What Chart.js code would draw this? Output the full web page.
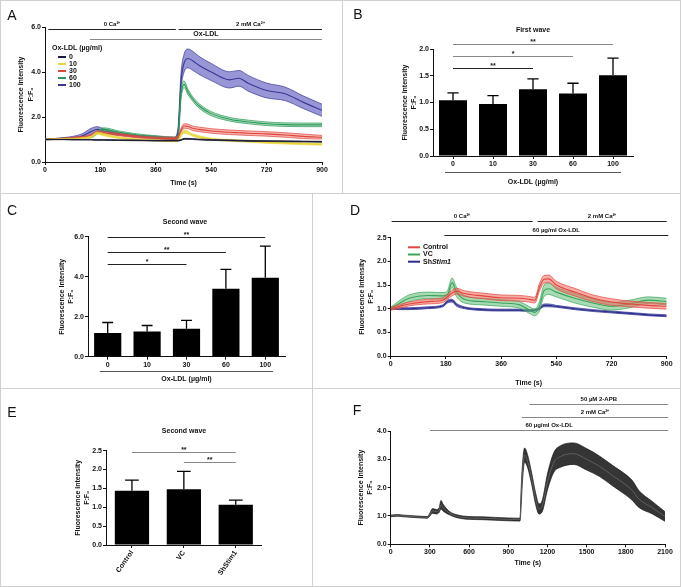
<!DOCTYPE html>
<html>
<head>
<meta charset="utf-8">
<script src="https://cdn.jsdelivr.net/npm/chart.js@4.4.1/dist/chart.umd.min.js"></script>
<style>
  body { margin: 0; background: #fff; }
  #fig { position: relative; width: 681px; height: 587px; overflow: hidden; font-family: 'Liberation Sans', Arial, sans-serif; color: #111; }
  #fig canvas { position: absolute; }
  .rule { position: absolute; background: #d0d0d0; }
  .letter { position: absolute; font-size: 14px; transform: translate(-50%, -50%); }
  .ptitle { position: absolute; font-size: 7px; font-weight: bold; transform: translate(-50%, -50%); white-space: nowrap; }
</style>
</head>
<body>
<div id="fig">
  <div class="rule" style="left:0;top:0;width:681px;height:1px"></div>
  <div class="rule" style="left:0;top:586px;width:681px;height:1px"></div>
  <div class="rule" style="left:0;top:0;width:1px;height:587px"></div>
  <div class="rule" style="left:680px;top:0;width:1px;height:587px"></div>
  <div class="rule" style="left:0;top:193px;width:681px;height:1px"></div>
  <div class="rule" style="left:0;top:388px;width:681px;height:1px"></div>
  <div class="rule" style="left:342px;top:0;width:1px;height:193px"></div>
  <div class="rule" style="left:312px;top:193px;width:1px;height:394px"></div>

  <canvas id="chartA" width="342" height="193" style="left:0;top:0"></canvas>
  <canvas id="chartB" width="339" height="193" style="left:342px;top:0"></canvas>
  <canvas id="chartC" width="312" height="195" style="left:0;top:193px"></canvas>
  <canvas id="chartD" width="369" height="195" style="left:312px;top:193px"></canvas>
  <canvas id="chartE" width="312" height="199" style="left:0;top:388px"></canvas>
  <canvas id="chartF" width="369" height="199" style="left:312px;top:388px"></canvas>

  <div class="letter" style="left:12px;top:15px">A</div>
  <div class="letter" style="left:358px;top:14px">B</div>
  <div class="letter" style="left:12px;top:210px">C</div>
  <div class="letter" style="left:355px;top:210px">D</div>
  <div class="letter" style="left:12px;top:412px">E</div>
  <div class="letter" style="left:357px;top:410px">F</div>

  <div class="ptitle" style="left:533px;top:29px">First wave</div>
  <div class="ptitle" style="left:185px;top:221px">Second wave</div>
  <div class="ptitle" style="left:184px;top:430px">Second wave</div>
</div>

<script>
// ---- data: panel A (Ox-LDL dose, time course) ----
const timeA = [0, 60, 120, 150, 170, 190, 240, 300, 360, 420, 432, 442, 452, 465, 480, 500, 540, 600, 630, 660, 720, 780, 840, 900];
const dosesA = ['0', '10', '30', '60', '100'];
const meanA0 = [1.0, 1.0, 0.99, 0.99, 0.98, 0.98, 0.97, 0.96, 0.95, 0.95, 0.95, 0.98, 1.03, 1.03, 1.02, 1.0, 0.98, 0.96, 0.95, 0.94, 0.93, 0.92, 0.91, 0.9];
const errA0 = [0.01, 0.01, 0.01, 0.01, 0.015, 0.015, 0.015, 0.015, 0.015, 0.015, 0.015, 0.02, 0.02, 0.02, 0.02, 0.02, 0.02, 0.02, 0.02, 0.02, 0.02, 0.02, 0.02, 0.02];
const meanA10 = [1.0, 1.02, 1.05, 1.12, 1.28, 1.22, 1.08, 1.0, 0.96, 0.93, 0.95, 1.2, 1.35, 1.3, 1.2, 1.12, 1.02, 0.96, 0.94, 0.92, 0.87, 0.84, 0.81, 0.79];
const errA10 = [0.01, 0.02, 0.03, 0.04, 0.05, 0.05, 0.04, 0.03, 0.03, 0.03, 0.03, 0.06, 0.07, 0.06, 0.05, 0.05, 0.04, 0.04, 0.04, 0.04, 0.04, 0.04, 0.04, 0.04];
const meanA30 = [1.0, 1.04, 1.1, 1.18, 1.33, 1.3, 1.22, 1.12, 1.06, 1.05, 1.08, 1.4, 1.6, 1.58, 1.5, 1.45, 1.38, 1.32, 1.3, 1.28, 1.25, 1.2, 1.14, 1.1];
const errA30 = [0.01, 0.03, 0.04, 0.05, 0.06, 0.06, 0.05, 0.05, 0.05, 0.05, 0.05, 0.1, 0.1, 0.1, 0.1, 0.1, 0.1, 0.1, 0.1, 0.1, 0.1, 0.1, 0.1, 0.08];
const meanA60 = [1.0, 1.04, 1.08, 1.12, 1.3, 1.45, 1.32, 1.2, 1.12, 1.06, 1.1, 3.0, 3.45, 3.1, 2.8, 2.5, 2.15, 1.9, 1.83, 1.78, 1.7, 1.66, 1.65, 1.65];
const errA60 = [0.01, 0.02, 0.03, 0.04, 0.06, 0.07, 0.06, 0.05, 0.05, 0.05, 0.1, 0.2, 0.15, 0.12, 0.1, 0.1, 0.09, 0.08, 0.08, 0.08, 0.08, 0.08, 0.08, 0.08];
const meanA100 = [1.0, 1.05, 1.15, 1.35, 1.45, 1.38, 1.25, 1.15, 1.1, 1.05, 1.3, 3.6, 4.4, 4.6, 4.5, 4.3, 4.0, 3.65, 3.72, 3.5, 3.18, 3.03, 2.65, 2.3];
const errA100 = [0.02, 0.03, 0.1, 0.15, 0.12, 0.1, 0.06, 0.05, 0.05, 0.05, 0.2, 0.35, 0.4, 0.42, 0.42, 0.4, 0.38, 0.36, 0.35, 0.35, 0.33, 0.3, 0.28, 0.27];
const condA = [['0 Ca²⁺', 11, 425, 5.9], ['2 mM Ca²⁺', 434, 900, 5.9], ['Ox-LDL', 146, 900, 5.45]];

// ---- data: panels B, C (bar summaries) ----
const doseLabels = ['0', '10', '30', '60', '100'];
const firstWave = [1.04, 0.97, 1.25, 1.17, 1.51];
const firstWaveErr = [0.14, 0.16, 0.19, 0.19, 0.32];
const sigB = [[0, 4, 2.10, '**'], [0, 3, 1.86, '*'], [0, 2, 1.64, '**']];
const secondWave = [1.18, 1.26, 1.4, 3.4, 3.95];
const secondWaveErr = [0.53, 0.3, 0.42, 0.97, 1.58];
const sigC = [[0, 4, 6.0, '**'], [0, 3, 5.25, '**'], [0, 2, 4.62, '*']];

// ---- data: panel D (knockdown time course) ----
const timeD = [0, 30, 60, 120, 170, 185, 200, 215, 240, 300, 360, 420, 450, 470, 485, 500, 515, 540, 600, 660, 720, 780, 840, 900];
const groupsD = ['Control', 'VC', 'ShStim1'];
const meanCtl = [1.0, 1.05, 1.1, 1.15, 1.18, 1.25, 1.33, 1.37, 1.32, 1.27, 1.23, 1.22, 1.2, 1.18, 1.45, 1.62, 1.63, 1.5, 1.35, 1.22, 1.14, 1.1, 1.07, 1.05];
const errCtl = [0.03, 0.04, 0.04, 0.05, 0.05, 0.05, 0.06, 0.06, 0.06, 0.06, 0.06, 0.06, 0.06, 0.06, 0.08, 0.08, 0.08, 0.08, 0.08, 0.07, 0.07, 0.06, 0.06, 0.06];
const meanVC = [1.0, 1.12, 1.22, 1.28, 1.27, 1.3, 1.55, 1.35, 1.2, 1.15, 1.12, 1.08, 0.98, 0.92, 1.05, 1.38, 1.42, 1.35, 1.22, 1.12, 1.05, 1.1, 1.18, 1.15];
const errVC = [0.03, 0.06, 0.07, 0.07, 0.07, 0.08, 0.1, 0.1, 0.08, 0.07, 0.07, 0.07, 0.07, 0.07, 0.1, 0.12, 0.12, 0.1, 0.1, 0.09, 0.08, 0.08, 0.07, 0.07];
const meanSh = [1.0, 1.0, 1.0, 1.02, 1.06, 1.15, 1.17, 1.08, 1.02, 0.98, 0.97, 0.97, 0.96, 0.97, 1.0, 1.07, 1.07, 1.05, 1.0, 0.96, 0.93, 0.9, 0.87, 0.85];
const errSh = [0.01, 0.02, 0.02, 0.02, 0.02, 0.03, 0.03, 0.03, 0.02, 0.02, 0.02, 0.02, 0.02, 0.02, 0.02, 0.03, 0.03, 0.02, 0.02, 0.02, 0.02, 0.02, 0.02, 0.02];
const condD = [['0 Ca²⁺', 3, 463, 2.86], ['2 mM Ca²⁺', 479, 900, 2.86], ['60 µg/ml Ox-LDL', 175, 905, 2.56]];

// ---- data: panel E ----
const groupsE = ['Control', 'VC', 'ShStim1'];
const secondWaveE = [1.44, 1.48, 1.07];
const secondWaveErrE = [0.28, 0.47, 0.12];
const sigE = [[0, 2, 2.47, '**'], [1, 2, 2.21, '**']];

// ---- data: panel F (2-APB) ----
const timeF = [0, 50, 100, 200, 280, 300, 320, 350, 370, 385, 400, 450, 500, 600, 700, 800, 900, 990, 1000, 1010, 1025, 1050, 1080, 1110, 1135, 1160, 1200, 1250, 1300, 1400, 1500, 1600, 1700, 1800, 1850, 1900, 2000, 2100];
const meanF = [1.0, 1.02, 1.0, 0.97, 0.95, 1.05, 1.18, 1.15, 1.2, 1.4, 1.3, 1.1, 1.0, 0.93, 0.92, 0.9, 0.88, 0.87, 1.8, 2.6, 3.15, 2.9, 2.3, 1.6, 1.25, 1.35, 2.2, 2.9, 3.1, 3.2, 3.0, 2.75, 2.42, 2.1, 1.9, 1.6, 1.3, 0.98];
const errF = [0.03, 0.03, 0.03, 0.03, 0.03, 0.05, 0.08, 0.08, 0.08, 0.15, 0.12, 0.06, 0.05, 0.05, 0.05, 0.05, 0.05, 0.05, 0.3, 0.3, 0.25, 0.22, 0.2, 0.2, 0.18, 0.2, 0.28, 0.35, 0.38, 0.38, 0.38, 0.36, 0.36, 0.36, 0.35, 0.3, 0.22, 0.17];
const condF = [['50 µM 2-APB', 1061, 2125, 4.94], ['2 mM Ca²⁺', 1003, 2125, 4.5], ['60 µg/ml Ox-LDL', 301, 2125, 4.05]];

// ---- styling ----
const INK = '#111';
const FAMILY = "'Liberation Sans', Arial, sans-serif";
Chart.defaults.font.family = FAMILY;
Chart.defaults.color = INK;
const TICK_FONT = { size: 7, weight: 'bold' };
const TITLE_FONT = { size: 7, weight: 'bold', lineHeight: 1.3 };
const YTITLE = ['Fluorescence Intensity', 'F:F₀'];

// mean line + upper/lower band edges, band filled between
function bandSets(label, t, mean, err, line, fill) {
  const pts = f => t.map((x, i) => ({ x, y: f(i) }));
  const common = { pointRadius: 0, cubicInterpolationMode: 'monotone' };
  return [
    { ...common, label, data: pts(i => mean[i]), borderColor: line, borderWidth: 1.1, fill: false, legendLine: true },
    { ...common, label: label + ' lo', data: pts(i => mean[i] - err[i]), borderColor: line, borderWidth: 0.7, fill: false },
    { ...common, label: label + ' hi', data: pts(i => mean[i] + err[i]), borderColor: line, borderWidth: 0.7, fill: '-1', backgroundColor: fill }
  ];
}

function yAxis(min, max, step, width, pad) {
  return {
    type: 'linear', min, max,
    border: { display: true, color: INK, width: 1 },
    grid: { drawOnChartArea: false, tickLength: 3, tickColor: INK },
    ticks: { stepSize: step, font: TICK_FONT, color: INK, padding: 1, callback: v => v.toFixed(1) },
    title: { display: true, text: YTITLE, font: TITLE_FONT, color: INK, padding: { top: pad, bottom: 0 } },
    afterFit: s => { s.width = width; }
  };
}

function xTime(max, step, height, pad) {
  return {
    type: 'linear', min: 0, max,
    border: { display: true, color: INK, width: 1 },
    grid: { drawOnChartArea: false, tickLength: 3, tickColor: INK },
    ticks: { stepSize: step, font: TICK_FONT, color: INK, padding: 1, maxRotation: 0, callback: v => String(v) },
    title: { display: true, text: 'Time (s)', font: TITLE_FONT, color: INK, padding: { top: 0, bottom: pad } },
    afterFit: s => { s.height = height; }
  };
}

function xCat(height, title, pad, rot) {
  return {
    type: 'category', offset: true,
    border: { display: true, color: INK, width: 1 },
    grid: { drawOnChartArea: false, offset: false, tickLength: 3, tickColor: INK },
    ticks: { font: TICK_FONT, color: INK, padding: 1, minRotation: rot, maxRotation: rot },
    title: { display: !!title, text: title, font: TITLE_FONT, color: INK, padding: { top: 0, bottom: pad } },
    afterFit: s => { s.height = height; }
  };
}

// draws condition bars, significance brackets, bar error bars and inline legends
const annotPlugin = {
  id: 'annot',
  afterDatasetsDraw(chart, args, o) {
    const { ctx, chartArea, scales: { x, y } } = chart;
    ctx.save();
    ctx.lineCap = 'butt';

    if (o.errors) {
      const meta = chart.getDatasetMeta(0);
      const vals = chart.data.datasets[0].data;
      ctx.strokeStyle = '#000';
      ctx.lineWidth = 1.3;
      meta.data.forEach((bar, i) => {
        const top = y.getPixelForValue(vals[i] + o.errors[i]);
        const hw = bar.width * 0.2;
        ctx.beginPath();
        ctx.moveTo(bar.x, bar.y);
        ctx.lineTo(bar.x, top);
        ctx.moveTo(bar.x - hw, top);
        ctx.lineTo(bar.x + hw, top);
        ctx.stroke();
      });
    }

    if (o.sig) {
      ctx.font = 'bold 7px ' + FAMILY;
      ctx.textAlign = 'center';
      ctx.textBaseline = 'bottom';
      o.sig.forEach(([a, b, lvl, txt], k) => {
        const x0 = x.getPixelForValue(a), x1 = x.getPixelForValue(b);
        const py = Math.round(y.getPixelForValue(lvl)) + 0.5;
        ctx.strokeStyle = o.sigColors[k];
        ctx.lineWidth = 1;
        ctx.beginPath(); ctx.moveTo(x0, py); ctx.lineTo(x1, py); ctx.stroke();
        ctx.fillStyle = INK;
        ctx.fillText(txt, (x0 + x1) / 2, py + 1);
      });
    }

    if (o.bracket) {
      const n = chart.data.labels.length;
      const w = (x.getPixelForValue(1) - x.getPixelForValue(0)) * 0.2;
      const py = Math.round(chartArea.bottom + o.bracket) + 0.5;
      ctx.strokeStyle = '#555';
      ctx.lineWidth = 1;
      ctx.beginPath();
      ctx.moveTo(x.getPixelForValue(0) - w, py);
      ctx.lineTo(x.getPixelForValue(n - 1) + w, py);
      ctx.stroke();
    }

    if (o.cond) {
      ctx.textAlign = 'center';
      ctx.textBaseline = 'bottom';
      o.cond.forEach(([txt, t0, t1, lvl], k) => {
        const x0 = x.getPixelForValue(t0), x1 = x.getPixelForValue(t1);
        const py = Math.round(y.getPixelForValue(lvl)) + 0.5;
        ctx.strokeStyle = o.condColors[k];
        ctx.lineWidth = 1.2;
        ctx.beginPath(); ctx.moveTo(x0, py); ctx.lineTo(x1, py); ctx.stroke();
        ctx.fillStyle = INK;
        ctx.font = 'bold ' + (o.condSizes ? o.condSizes[k] : 6) + 'px ' + FAMILY;
        ctx.fillText(txt, (x0 + x1) / 2, py - 2);
      });
    }

    if (o.legend) {
      const L = o.legend;
      ctx.textBaseline = 'middle';
      ctx.textAlign = 'left';
      ctx.fillStyle = INK;
      if (L.title) {
        ctx.font = 'bold 7px ' + FAMILY;
        ctx.fillText(L.title, L.x, L.y0 - L.step * 1.25);
      }
      const items = chart.data.datasets.filter(d => d.legendLine);
      items.forEach((d, i) => {
        const py = L.y0 + i * L.step;
        ctx.strokeStyle = d.borderColor;
        ctx.lineWidth = 2;
        ctx.beginPath(); ctx.moveTo(L.x0, py); ctx.lineTo(L.x1, py); ctx.stroke();
        ctx.fillStyle = INK;
        ctx.font = 'bold 7px ' + FAMILY;
        if (d.label.startsWith('Sh')) {
          ctx.fillText('Sh', L.tx, py);
          const w = ctx.measureText('Sh').width;
          ctx.font = 'italic bold 7px ' + FAMILY;
          ctx.fillText(d.label.slice(2), L.tx + w, py);
        } else {
          ctx.fillText(d.label, L.tx, py);
        }
      });
    }
    ctx.restore();
  }
};

function build(id, area, type, data, scales, annot) {
  const cv = document.getElementById(id);
  const W = cv.width;
  return new Chart(cv, {
    type, data,
    plugins: [annotPlugin],
    options: {
      responsive: false, animation: false, devicePixelRatio: 1,
      layout: { padding: { left: 0, top: area.t, right: W - area.r, bottom: 0 } },
      plugins: { legend: { display: false }, tooltip: { enabled: false }, annot },
      scales
    }
  });
}

// ---- A ----
const colorsA = ['#1b1b3a', '#e6d63a', '#e0443c', '#2a9a58', '#3a3894'];
const fillsA = ['rgba(27,27,58,0.5)', 'rgba(240,222,70,0.7)', 'rgba(236,96,86,0.45)', 'rgba(70,175,110,0.45)', 'rgba(128,124,206,0.8)'];
const meansA = [meanA0, meanA10, meanA30, meanA60, meanA100];
const errsA = [errA0, errA10, errA30, errA60, errA100];
build('chartA', { t: 27, r: 322 }, 'line', {
  datasets: dosesA.flatMap((d, i) => bandSets(d, timeA, meansA[i], errsA[i], colorsA[i], fillsA[i]))
}, {
  x: xTime(900, 180, 193 - 162, 5.5),
  y: yAxis(0, 6, 2, 45, 17)
}, {
  cond: condA, condColors: ['#222', '#222', '#888'], condSizes: [6, 6, 7],
  legend: { title: 'Ox-LDL (µg/ml)', x: 52, x0: 58, x1: 66, tx: 69, y0: 57, step: 7 }
});

// ---- B ----
build('chartB', { t: 49, r: 291 }, 'bar', {
  labels: doseLabels,
  datasets: [{ data: firstWave, backgroundColor: '#000', barPercentage: 0.7, categoryPercentage: 1 }]
}, {
  x: xCat(193 - 156, 'Ox-LDL (µg/ml)', 6.7, 0),
  y: yAxis(0, 2, 0.5, 91, 58.5)
}, {
  errors: firstWaveErr, sig: sigB, sigColors: ['#888', '#888', '#222'], bracket: 16
});

// ---- C ----
build('chartC', { t: 43.7, r: 285 }, 'bar', {
  labels: doseLabels,
  datasets: [{ data: secondWave, backgroundColor: '#000', barPercentage: 0.69, categoryPercentage: 1 }]
}, {
  x: xCat(195 - 163.7, 'Ox-LDL (µg/ml)', 4.2, 0),
  y: yAxis(0, 6, 2, 88, 57.8)
}, {
  errors: secondWaveErr, sig: sigC, sigColors: ['#222', '#222', '#222'], bracket: 14.3
});

// ---- D ----
const colorsD = ['#e3463c', '#3aa55a', '#2b2b8c'];
const fillsD = ['rgba(238,104,94,0.55)', 'rgba(96,188,116,0.55)', 'rgba(70,70,165,0.6)'];
const meansD = [meanCtl, meanVC, meanSh];
const errsD = [errCtl, errVC, errSh];
build('chartD', { t: 44.7, r: 354.7 }, 'line', {
  datasets: groupsD.flatMap((g, i) => bandSets(g, timeD, meansD[i], errsD[i], colorsD[i], fillsD[i]))
}, {
  x: xTime(900, 180, 195 - 163, 0.2),
  y: yAxis(0, 2.5, 0.5, 78.7, 45.1)
}, {
  cond: condD, condColors: ['#222', '#222', '#222'],
  legend: { x0: 96, x1: 108, tx: 111, y0: 54.3, step: 7.2 }
});

// ---- E ----
build('chartE', { t: 62.7, r: 261.7 }, 'bar', {
  labels: groupsE,
  datasets: [{ data: secondWaveE, backgroundColor: '#000', barPercentage: 0.66, categoryPercentage: 1 }]
}, {
  x: xCat(199 - 157, '', 0, 55),
  y: yAxis(0, 2.5, 0.5, 106, 73.8)
}, {
  errors: secondWaveErrE, sig: sigE, sigColors: ['#888', '#888']
});

// ---- F ----
build('chartF', { t: 43, r: 353 }, 'line', {
  datasets: bandSets('2-APB', timeF, meanF, errF, '#1a1a1a', 'rgba(25,25,25,0.88)').map((d, i) => i === 0 ? { ...d, borderColor: '#6a6a6a', borderWidth: 0.8 } : d)
}, {
  x: xTime(2100, 300, 199 - 156.3, 19.1),
  y: yAxis(0, 4, 1, 78.7, 44.1)
}, {
  cond: condF, condColors: ['#888', '#888', '#888']
});
</script>
</body>
</html>
